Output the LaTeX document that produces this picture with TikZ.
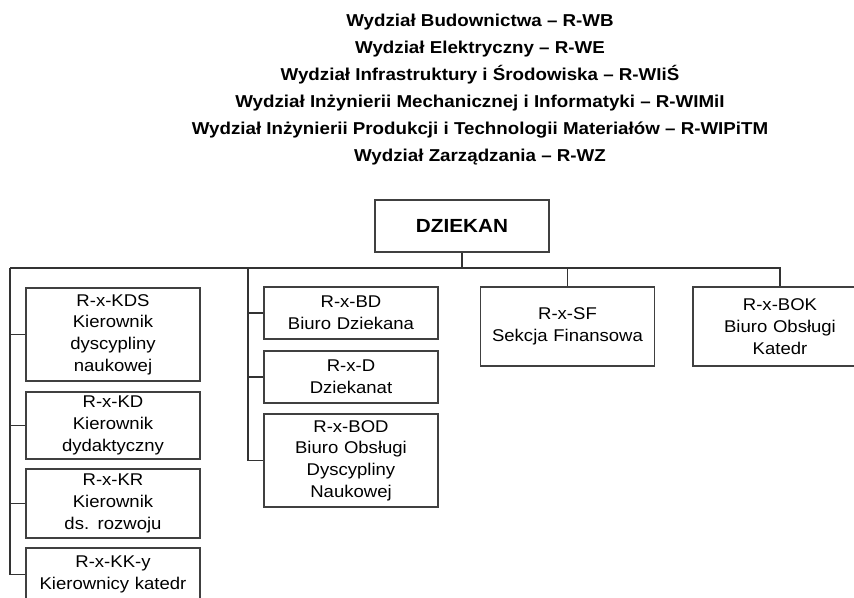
\documentclass[tikz,border=0pt]{standalone}
\usepackage{fontspec}
\setmainfont{Liberation Sans}[FakeStretch=1.09]
\begin{document}
\begin{tikzpicture}[x=1pt, y=-1pt, line join=miter,
	box/.style={draw=black!75, line width=1.4pt, rectangle, align=center, inner xsep=2pt, inner ysep=0pt, text width=170pt, font=\fontsize{17}{21.7}\selectfont},
	wire/.style={draw=black!80, line width=1.2pt},
	title/.style={anchor=base, font=\bfseries\fontsize{17.2}{27}\selectfont}]
	\clip (0,0) rectangle (854,597);
	\useasboundingbox (0,0) rectangle (854,597);
	% naglowek
	\node[title] (t1) at (480,26) {Wydział Budownictwa – R-WB};
	\node[title] (t2) at (480,53) {Wydział Elektryczny – R-WE};
	\node[title] (t3) at (480,80) {Wydział Infrastruktury i Środowiska – R-WIiŚ};
	\node[title] (t4) at (480,107) {Wydział Inżynierii Mechanicznej i Informatyki – R-WIMiI};
	\node[title] (t5) at (480,134) {Wydział Inżynierii Produkcji i Technologii Materiałów – R-WIPiTM};
	\node[title] (t6) at (480,161) {Wydział Zarządzania – R-WZ};
	% dziekan
	\node[box, minimum height=52pt, font=\bfseries\fontsize{19}{22}\selectfont] (dziekan) at (462,226) {DZIEKAN};
	% kierownicy
	\node[box, minimum height=93pt] (kds) at (113,334.5) {R-x-KDS\\Kierownik\\dyscypliny\\naukowej};
	\node[box, minimum height=67pt] (kd) at (113,425.5) {R-x-KD\\Kierownik\\dydaktyczny};
	\node[box, minimum height=69pt] (kr) at (113,503.5) {R-x-KR\\Kierownik\\ds. rozwoju};
	\node[box, minimum height=53pt] (kky) at (113,574.5) {R-x-KK-y\\Kierownicy katedr};
	% biura
	\node[box, minimum height=52pt] (bd) at (351,313) {R-x-BD\\Biuro Dziekana};
	\node[box, minimum height=52pt] (d) at (351,377) {R-x-D\\Dziekanat};
	\node[box, minimum height=93pt] (bod) at (351,460.5) {R-x-BOD\\Biuro Obsługi\\Dyscypliny\\Naukowej};
	\node[box, minimum height=79pt] (sf) at (567.5,326.5) {R-x-SF\\Sekcja Finansowa};
	\node[box, minimum height=79pt] (bok) at (780,326.5) {R-x-BOK\\Biuro Obsługi\\Katedr};
	% linie
	\coordinate (busL) at (10,268);
	\coordinate (busM) at (248,268);
	\coordinate (busR) at (bok.north |- busL);
	\draw[wire] (dziekan.south) -- (dziekan.south |- busL);
	\draw[wire] (busL) -- (busR) -- (bok.north);
	\draw[wire] (sf.north |- busL) -- (sf.north);
	\draw[wire] (busL) |- (kky.west);
	\draw[wire] (kds.west) -- (kds.west -| busL);
	\draw[wire] (kd.west) -- (kd.west -| busL);
	\draw[wire] (kr.west) -- (kr.west -| busL);
	\draw[wire] (busM) |- (bod.west);
	\draw[wire] (bd.west) -- (bd.west -| busM);
	\draw[wire] (d.west) -- (d.west -| busM);
\end{tikzpicture}
\end{document}
